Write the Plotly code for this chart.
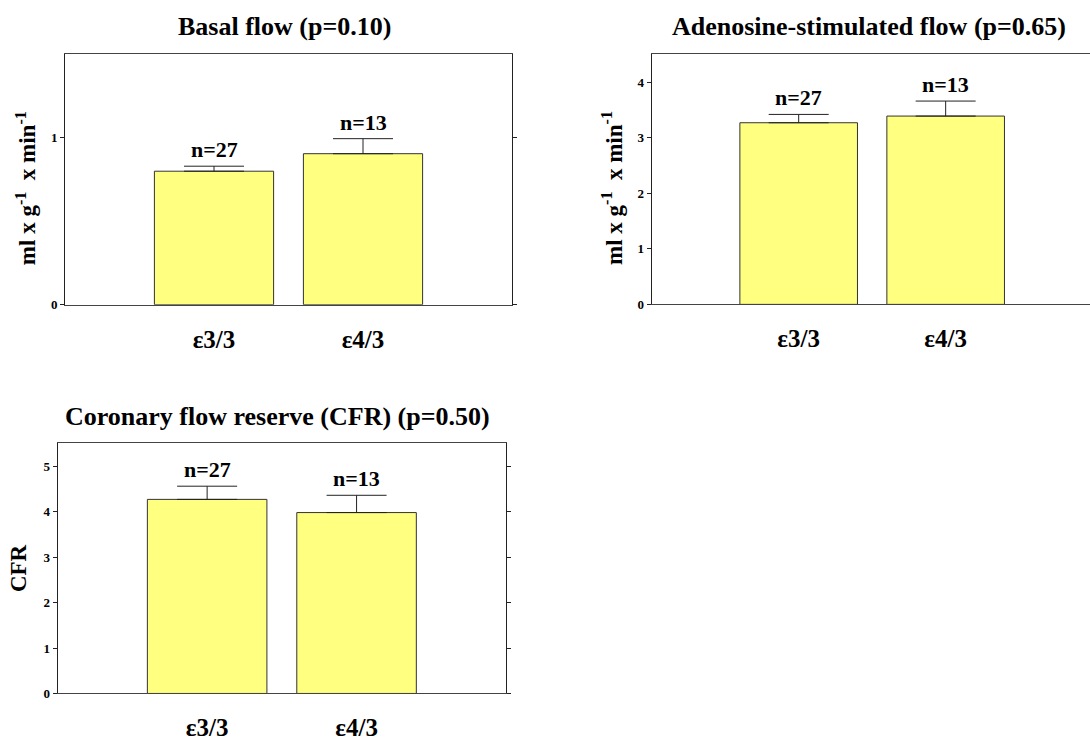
import plotly.graph_objects as go

categories = ["ε3/3", "ε4/3"]
n_labels = ["n=27", "n=13"]

basal_mean = [0.80, 0.905]
basal_sem = [0.03, 0.09]

adeno_mean = [3.27, 3.39]
adeno_sem = [0.15, 0.27]

cfr_mean = [4.27, 3.98]
cfr_sem = [0.29, 0.38]

titles = ["Basal flow (p=0.10)", "Adenosine-stimulated flow (p=0.65)",
          "Coronary flow reserve (CFR) (p=0.50)"]
ytitles = ["ml x g<sup>-1</sup>  x min<sup>-1</sup>&nbsp;&nbsp;&nbsp;",
           "ml x g<sup>-1</sup>  x min<sup>-1</sup>&nbsp;&nbsp;&nbsp;", "CFR"]

W, H = 1090, 744
FONT = "Liberation Serif"
BAR = "#FFFF80"

# panel geometry in pixels: (left, right, top, bottom)
boxes = [(65, 512, 55, 308), (651.7, 1090, 55, 307.7), (57.7, 506, 448.3, 701)]
yranges = [[0, 1.5], [0, 4.5], [0, 5.5]]
xranges = [[-1, 2], [-1, 1.982], [-1, 2]]
yticks = [[0, 1], [0, 1, 2, 3, 4], [0, 1, 2, 3, 4, 5]]
mirrors = ["ticks", False, "ticks"]
title_pos = [(284.5, 27), (869, 27), (277, 421)]
standoffs = [8, 8, 10]

data = [(basal_mean, basal_sem), (adeno_mean, adeno_sem), (cfr_mean, cfr_sem)]

fig = go.Figure()
annotations = []
for i, ((mean, sem), (l, r, t, b)) in enumerate(zip(data, boxes)):
    ax = "" if i == 0 else str(i + 1)
    fig.add_trace(go.Bar(
        x=categories, y=mean, width=0.8,
        marker=dict(color=BAR, line=dict(color="#333333", width=1)),
        error_y=dict(type="data", array=sem, arrayminus=[0] * len(sem),
                     symmetric=False, width=30, thickness=1, color="#222222"),
        xaxis="x" + ax, yaxis="y" + ax, showlegend=False,
    ))
    fig.layout["xaxis" + ax] = dict(
        domain=[l / W, min(r / W, 1)], anchor="y" + ax, type="category",
        range=xranges[i], showline=True, linecolor="#444444", linewidth=1,
        mirror=True, ticks="", showgrid=False, zeroline=False,
        tickfont=dict(family=FONT, size=25, color="black", weight="bold"),
        ticklabelstandoff=12,
    )
    fig.layout["yaxis" + ax] = dict(
        domain=[1 - b / H, 1 - t / H], anchor="x" + ax,
        range=yranges[i], tickvals=yticks[i], showline=True,
        linecolor="#222222", linewidth=1, mirror=mirrors[i],
        ticks="outside", ticklen=4, tickcolor="#222222",
        showgrid=False, zeroline=False,
        tickfont=dict(family=FONT, size=13, color="black", weight="bold"),
        title=dict(text="<b>" + ytitles[i] + "</b>", standoff=standoffs[i],
                   font=dict(family=FONT, size=23, color="black")),
    )
    for c, m, s, n in zip(categories, mean, sem, n_labels):
        annotations.append(dict(
            x=c, y=m + s, xref="x" + ax, yref="y" + ax, text="<b>" + n + "</b>",
            showarrow=False, yanchor="bottom", yshift=2,
            font=dict(family=FONT, size=22, color="black"),
        ))
    tx, ty = title_pos[i]
    annotations.append(dict(
        x=tx / W, y=1 - ty / H, xref="paper", yref="paper",
        text="<b>" + titles[i] + "</b>", showarrow=False,
        xanchor="center", yanchor="middle",
        font=dict(family=FONT, size=26, color="black"),
    ))

fig.update_layout(
    width=W, height=H, margin=dict(l=0, r=0, t=0, b=0),
    paper_bgcolor="white", plot_bgcolor="white",
    annotations=annotations, bargap=0.2,
)

# remove the browser's default 8px body margin so the figure fills the window exactly
fig.write_html("out.html", config={"displayModeBar": False},
               post_script="document.body.style.margin='0';document.body.style.overflow='hidden';")
